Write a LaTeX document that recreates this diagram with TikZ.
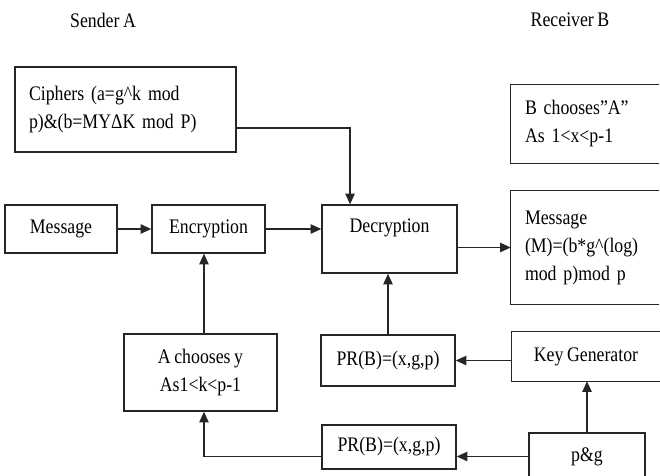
\documentclass[tikz,border=0pt]{standalone}
\usepackage{fontspec}
\setmainfont[FakeStretch=0.86,WordSpace=0.8]{Liberation Serif}
\usetikzlibrary{arrows.meta}
\begin{document}
\begin{tikzpicture}[x=0.75pt,y=-0.75pt,
  every node/.style={font=\fontsize{15.5}{21}\selectfont, text=black},
  blk/.style={draw=black!85, line width=1.05pt, inner sep=0pt, fill=white},
  openblk/.style={inner sep=0pt},
  edge/.style={draw=black!85, line width=1.05pt},
  arr/.style={draw=black!85, line width=1.05pt, -{Triangle[length=8pt,width=7pt]}}]
\useasboundingbox[fill=white] (0,0) rectangle (660,475);

% headings
\node (hsend) at (103,20) {Sender A};
\node (hrecv) at (570,20) {Receiver B};

% sender side
\node[blk, minimum width=165.75pt, minimum height=63.75pt, text width=144.75pt, align=left]
  (ciph) at (125.5,109.5) {Ciphers (a=g\textasciicircum k mod\\p)\&(b=MYΔK mod P)};
\node[blk, minimum width=84pt, minimum height=36pt] (msg) at (61,229) {Message};
\node[blk, minimum width=84.75pt, minimum height=36pt] (enc) at (208.5,229) {Encryption};
\node[blk, minimum width=114.75pt, minimum height=57.75pt, align=center]
  (ach) at (200.5,372.5) {A chooses y\\As1<k<p-1};

% middle column
\node[blk, minimum width=101.25pt, minimum height=51pt,
  label={[yshift=8.25pt]center:Decryption}] (dec) at (389.5,239) {};
\node[blk, minimum width=100.5pt, minimum height=38.25pt] (prb1) at (388,360.5) {PR(B)=(x,g,p)};
\node[blk, minimum width=100.5pt, minimum height=33pt] (prb2) at (389,447) {PR(B)=(x,g,p)};

% receiver side: these boxes are cut by the right margin, so only
% their top, left and bottom sides are drawn
\node[openblk, minimum width=111pt, minimum height=58.5pt, text width=90pt, align=left]
  (bch) at (585,124) {B chooses”A”\\As 1<x<p-1};
\node[openblk, minimum width=111pt, minimum height=84.75pt, text width=90pt, align=left]
  (msgr) at (585,247.5) {Message\\(M)=(b*g\textasciicircum(log)\\mod p)mod p};
\node[openblk, minimum width=111pt, minimum height=36.75pt]
  (keyg) at (586,356.5) {Key Generator};
\foreach \b in {bch,msgr,keyg}
  \draw[edge] (\b.north east) -- (\b.north west) -- (\b.south west) -- (\b.south east);
\node[blk, minimum width=87pt, minimum height=35.25pt] (pg) at (587,456.5) {p\&g};

% connectors
\draw[arr] ([yshift=-13.9pt]ciph.east) -| ([xshift=-29.6pt]dec.north);
\draw[arr] (msg.east) -- (enc.west);
\draw[arr] (enc.east) -- (dec.west |- enc.east);
\draw[arr] (dec.east |- msgr.west) -- (msgr.west);
\draw[arr] ([xshift=2.6pt]ach.north) -- ([xshift=2.6pt]ach.north |- enc.south);
\draw[arr] (prb1.north) -- (prb1.north |- dec.south);
\draw[arr] (keyg.west |- prb1.east) -- (prb1.east);
\draw[arr] (pg.north) -- (pg.north |- keyg.south);
\draw[arr] (pg.west) -- (pg.west -| prb2.east);
\draw[arr] (prb2.west |- pg.west) -| ([xshift=2.6pt]ach.south);
\end{tikzpicture}
\end{document}
